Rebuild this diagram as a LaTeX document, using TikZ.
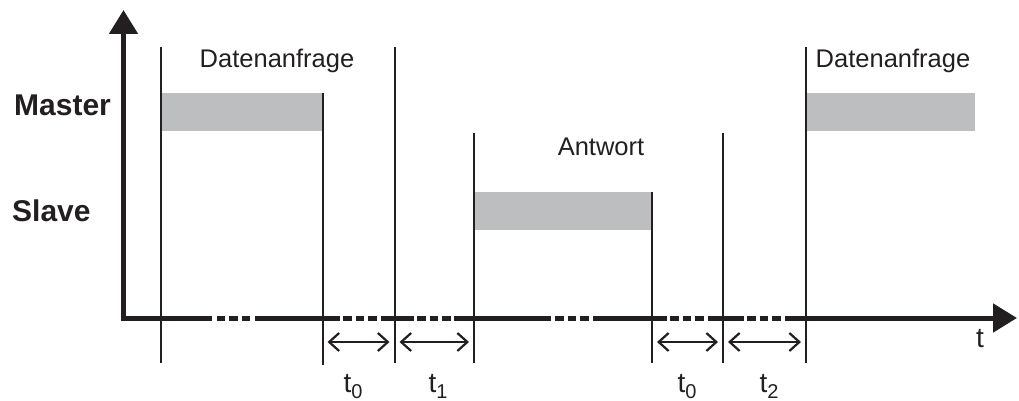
\documentclass[tikz,border=0pt]{standalone}
\usepackage{fontspec}
\setmainfont{Liberation Sans}
\usetikzlibrary{arrows.meta}
\definecolor{ink}{RGB}{35,31,32}
\definecolor{barfill}{RGB}{188,190,192}
\begin{document}
\begin{tikzpicture}[x=1pt,y=-1pt,
  axisline/.style={line width=5pt, draw=ink, line join=miter},
  vline/.style={line width=2pt, draw=ink},
  barbox/.style={fill=barfill, draw=none},
  barb/.tip={Straight Barb[length=10pt,width=18pt,line width=2.2pt]},
  headtri/.tip={Triangle[length=24pt,width=28pt]},
  span/.style={line width=2pt, draw=ink, shorten >=5pt, shorten <=5pt, barb-barb},
  lbl/.style={font=\fontsize{25.5}{25.5}\selectfont, text=ink, inner sep=0pt, anchor=base},
  role/.style={font=\fontsize{30}{30}\selectfont\bfseries, text=ink, inner sep=0pt, anchor=base west},
  tlbl/.style={font=\fontsize{28}{28}\selectfont, text=ink, inner sep=0pt, anchor=base}
]
\useasboundingbox (0,0) rectangle (1019,401);
\newcommand{\dashgrp}[1]{%
  \foreach \k in {0,1,2}{\draw[line width=5pt, draw=ink] ({#1+12.6*\k},318) -- ({#1+12.6*\k+8.6},318);}}
\newcommand{\tsub}[1]{t\raisebox{-6pt}{\fontsize{20}{20}\selectfont #1}}

% bars
\path[barbox] (161,93) rectangle (322.5,131) coordinate (mbar1);
\path[barbox] (474,192) rectangle (652,230) coordinate (sbar);
\path[barbox] (806,93) rectangle (975,131) coordinate (mbar2);

% axes
\draw[axisline, headtri-] (123.5,10) -- (123.5,318) -- (212,318);
\dashgrp{216.5}
\draw[axisline] (254.5,318) -- (340,318);
\dashgrp{343}
\draw[axisline] (381,318) -- (413.5,318);
\dashgrp{417}
\draw[axisline] (454,318) -- (550.5,318);
\dashgrp{555}
\draw[axisline] (593,318) -- (667,318);
\dashgrp{670}
\draw[axisline] (708,318) -- (743.5,318);
\dashgrp{747}
\draw[axisline, -headtri] (784.5,318) -- (1017,318);

% vertical lines
\coordinate (L1t) at (160.5,47);  \coordinate (L1b) at (160.5,363);
\coordinate (L2t) at (322.5,93);  \coordinate (L2b) at (322.5,365);
\coordinate (L3t) at (394.5,47);  \coordinate (L3b) at (394.5,363);
\coordinate (L4t) at (474,133);   \coordinate (L4b) at (474,363);
\coordinate (L5t) at (652,192);   \coordinate (L5b) at (652,363);
\coordinate (L6t) at (723,133);   \coordinate (L6b) at (723,363);
\coordinate (L7t) at (806,47);    \coordinate (L7b) at (806,363);
\foreach \i in {1,...,7}{\draw[vline] (L\i t) -- (L\i b);}

% interval arrows
\coordinate (a2) at (322.5,342);
\coordinate (a3) at (394.5,342);
\coordinate (a4) at (474,342);
\coordinate (a5) at (652,342);
\coordinate (a6) at (723,342);
\coordinate (a7) at (806,342);
\draw[span] (a2) -- (a3);
\draw[span] (a3) -- (a4);
\draw[span] (a5) -- (a6);
\draw[span] (a6) -- (a7);

% labels
\node[lbl] (req1) at (277,68) {Datenanfrage};
\node[lbl] (req2) at (893,68) {Datenanfrage};
\node[lbl] (ans) at (601,155) {Antwort};
\node[role] (master) at (14,116) {Master};
\node[role] (slave) at (12,221) {Slave};
\node[tlbl] (tax) at (980,347) {t};
\node[tlbl] (t0a) at (353,392) {\tsub{0}};
\node[tlbl] (t1) at (438,392) {\tsub{1}};
\node[tlbl] (t0b) at (687,392) {\tsub{0}};
\node[tlbl] (t2) at (769,392) {\tsub{2}};
\end{tikzpicture}
\end{document}
